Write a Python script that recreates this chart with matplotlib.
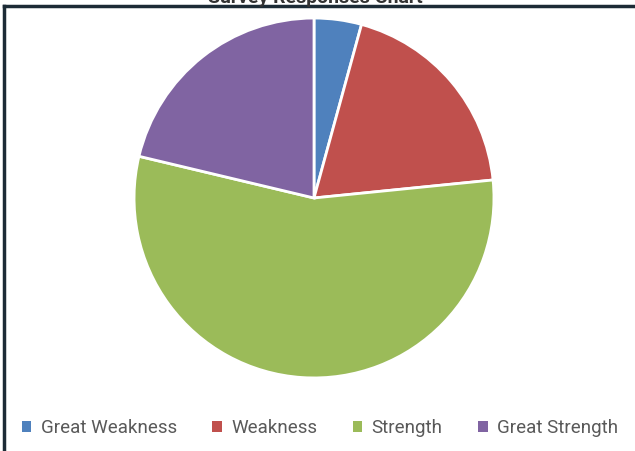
import matplotlib.pyplot as plt
from matplotlib.lines import Line2D
from matplotlib.patches import Patch

# Response counts per category
categories = ['Great Weakness', 'Weakness', 'Strength', 'Great Strength']
counts = [2, 9, 26, 10]
colors = ['#4f81bd', '#c0504d', '#9bbb59', '#8064a2']

fig = plt.figure(figsize=(6.35, 4.51), dpi=100)
plt.rcParams['font.family'] = ['Roboto', 'DejaVu Sans']

ax = fig.add_axes([0.211, 0.162, 0.567, 0.798])
ax.pie(counts, colors=colors, startangle=90, counterclock=False,
       wedgeprops={'edgecolor': 'white', 'linewidth': 2})
ax.set_xlim(-1.0, 1.0)
ax.set_ylim(-1.0, 1.0)
ax.set_aspect('equal')

# chart frame (only top and left edges visible in the crop)
fig.add_artist(Line2D([0.006, 1.0], [0.987, 0.987], color='#1c2b36', lw=2.5,
                      transform=fig.transFigure))
fig.add_artist(Line2D([0.006, 0.006], [0.0, 0.987], color='#1c2b36', lw=2.5,
                      transform=fig.transFigure))

# title sits mostly above the visible area
fig.text(0.497, 0.993, 'Survey Responses Chart', ha='center', va='baseline',
         fontsize=14, fontweight='bold', color='#333333')

handles = [Patch(facecolor=c, edgecolor='none') for c in colors]
fig.legend(handles, categories, loc='center', bbox_to_anchor=(0.504, 0.05),
           ncol=4, frameon=False, fontsize=13.5, labelcolor='#595959',
           handlelength=0.5, handleheight=0.5, handletextpad=0.5,
           columnspacing=1.9)

fig.savefig('out.png', dpi=100)
